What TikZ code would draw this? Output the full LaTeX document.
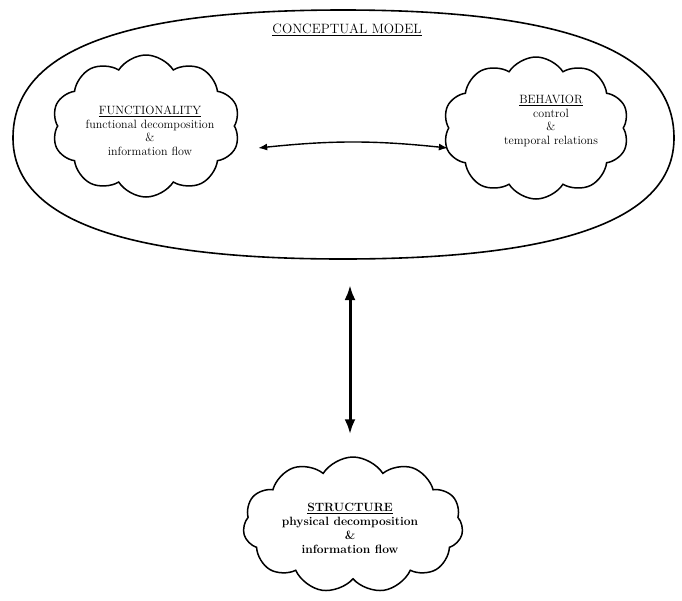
\documentclass[tikz,border=0pt]{standalone}
\usetikzlibrary{shapes.symbols,arrows.meta}
\begin{document}
\begin{tikzpicture}[x=1pt,y=-1pt,
  puff/.style={cloud, cloud puffs=10, cloud puff arc=115, cloud ignores aspect,
    draw, line width=1.5pt, inner sep=0pt},
  lbl/.style={align=center, inner sep=0pt, font=\fontsize{12}{13.5}\selectfont},
  thinarr/.style={line width=1.4pt, {Latex[length=9pt,width=7pt]}-{Latex[length=9pt,width=7pt]}},
  thickarr/.style={line width=3pt, {Latex[length=15pt,width=11pt]}-{Latex[length=15pt,width=11pt]}},
  oval/.style={line width=1.6pt}]
\useasboundingbox (0,0) rectangle (682,600);

% conceptual model oval
\draw[oval] (13,138) .. controls (13,52) and (118,10) .. (343,10)
  .. controls (568,10) and (674,52) .. (674,138)
  .. controls (674,220) and (560,259) .. (343,259)
  .. controls (126,259) and (13,220) .. (13,138) -- cycle;
\coordinate (cmbottom) at (350,259);

\node[font=\fontsize{13.5}{15}\selectfont, inner sep=0pt] (title) at (347,30) {\underline{CONCEPTUAL MODEL}};

% clouds
\node[puff, minimum width=188pt, minimum height=142pt] (func) at (146,126) {};
\node[lbl] (functxt) at (150,131) {\underline{FUNCTIONALITY}\\functional decomposition\\\&\\information flow};

\node[puff, minimum width=186pt, minimum height=142pt] (beh) at (536,128) {};
\node[lbl] (behtxt) at (551,121) {\underline{BEHAVIOR}\\control\\\&\\temporal relations};

\node[puff, cloud puffs=11, minimum width=220pt, minimum height=136pt] (struct) at (353,525) {};
\node[lbl, font=\fontsize{12}{14}\bfseries] (structxt) at (350,528) {\underline{STRUCTURE}\\physical decomposition\\\&\\information flow};

% connectors
\draw[thinarr] ([xshift=23pt,yshift=-22pt]func.east) to[bend left=6] ([yshift=-20pt]beh.west);
\draw[thickarr, shorten <=26pt, shorten >=22pt] (cmbottom) -- (cmbottom |- struct.north);
\end{tikzpicture}
\end{document}
